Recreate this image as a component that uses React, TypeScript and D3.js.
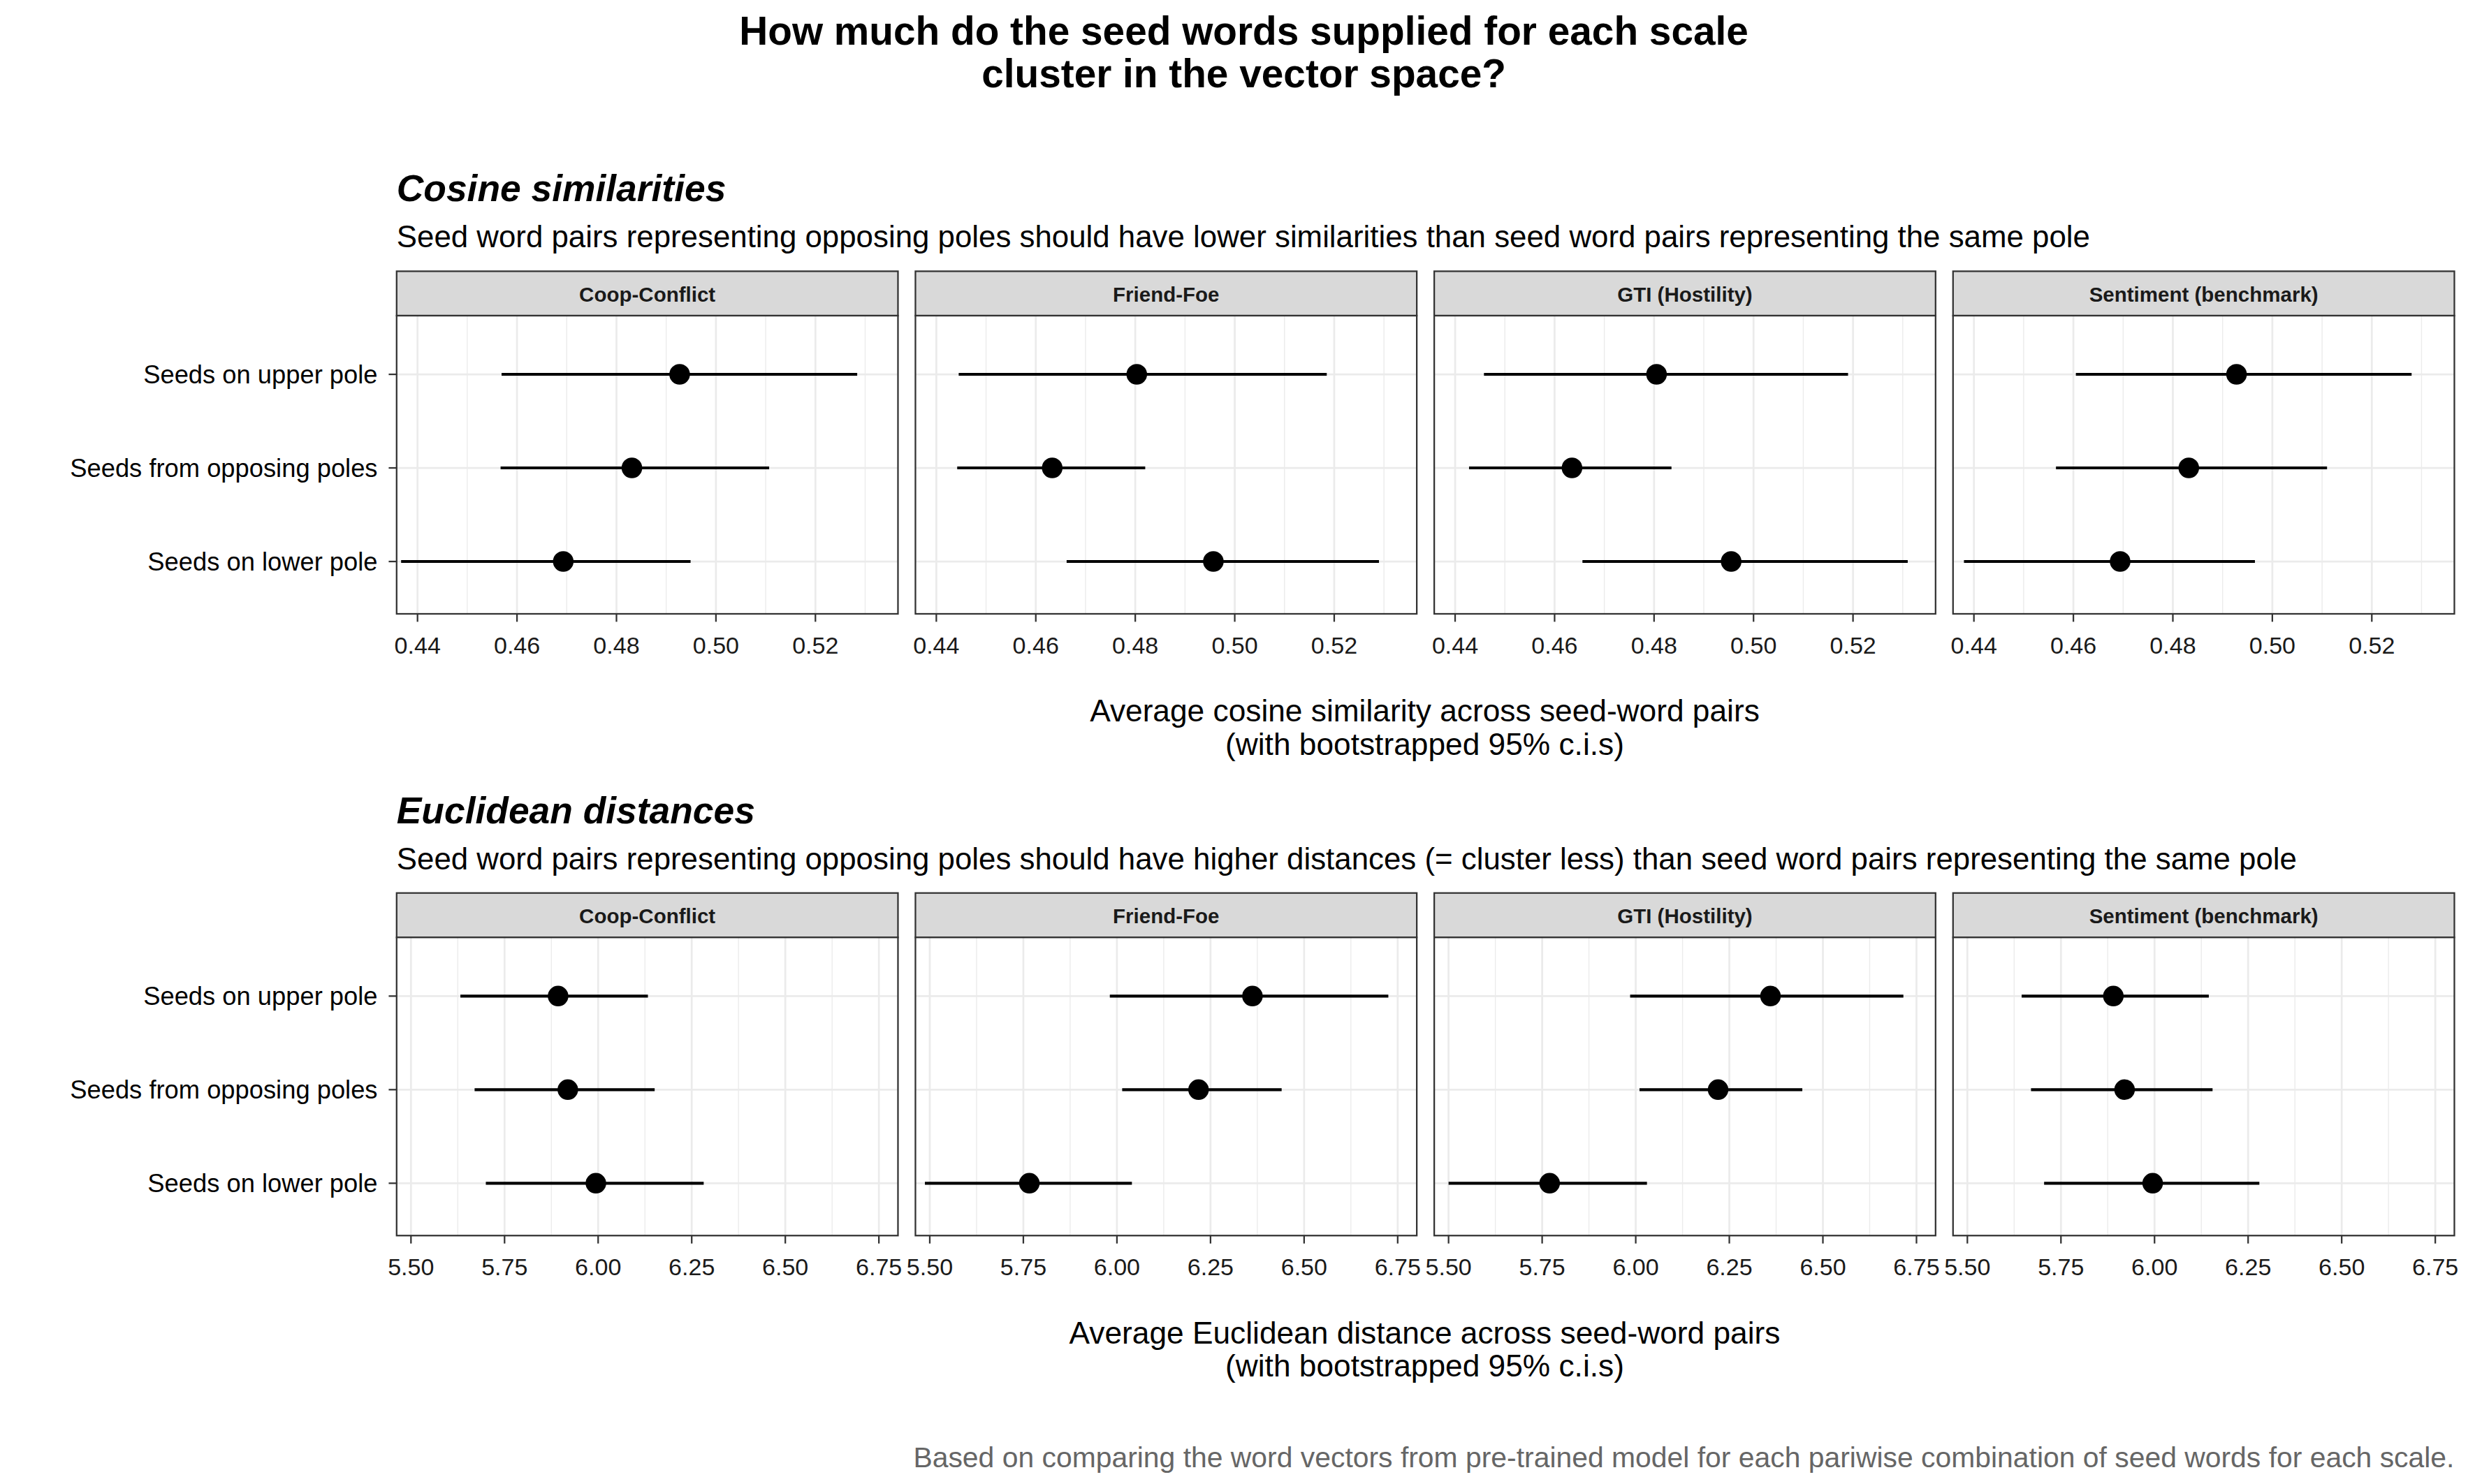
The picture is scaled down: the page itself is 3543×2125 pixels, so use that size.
import React from "react";
import { scaleLinear, scalePoint } from "d3";

const scales = ["Coop-Conflict", "Friend-Foe", "GTI (Hostility)", "Sentiment (benchmark)"];
const rows = ["Seeds on upper pole", "Seeds from opposing poles", "Seeds on lower pole"];

// [estimate, low, high] per scale, per row
const cosEst = [
  [0.4927, 0.4831, 0.4693],
  [0.4803, 0.4633, 0.4957],
  [0.4805, 0.4635, 0.4955],
  [0.4928, 0.4832, 0.4694],
];
const cosLow = [
  [0.4569, 0.4567, 0.4367],
  [0.4445, 0.4442, 0.4662],
  [0.4458, 0.4428, 0.4656],
  [0.4605, 0.4565, 0.4380],
];
const cosHigh = [
  [0.5284, 0.5107, 0.4949],
  [0.5185, 0.4820, 0.5290],
  [0.5190, 0.4835, 0.5310],
  [0.5280, 0.5110, 0.4965],
];
const eucEst = [
  [5.893, 5.919, 5.994],
  [6.362, 6.218, 5.766],
  [6.360, 6.220, 5.770],
  [5.890, 5.920, 5.995],
];
const eucLow = [
  [5.632, 5.670, 5.700],
  [5.981, 6.014, 5.487],
  [5.985, 6.010, 5.500],
  [5.645, 5.670, 5.705],
];
const eucHigh = [
  [6.133, 6.151, 6.282],
  [6.725, 6.440, 6.040],
  [6.715, 6.445, 6.030],
  [6.145, 6.155, 6.280],
];
const cosTicks = [0.44, 0.46, 0.48, 0.5, 0.52];
const cosMinor = [0.45, 0.47, 0.49, 0.51, 0.53];
const eucTicks = [5.5, 5.75, 6.0, 6.25, 6.5, 6.75];
const eucMinor = [5.625, 5.875, 6.125, 6.375, 6.625];

const W = 1560;
const H = 935.6;
const font = "'Liberation Sans', Arial, sans-serif";
const panelX = [250, 577, 904, 1231];
const panelW = 316;

function Section(props: {
  top: number; title: string; desc: string; axis1: string;
  est: number[][]; low: number[][]; high: number[][];
  domain: [number, number]; ticks: number[]; minor: number[]; fmt: (v: number) => string;
}) {
  const { top, est, low, high } = props;
  const stripTop = top + 52;
  const pTop = stripTop + 28;
  const pH = 188;
  const y = scalePoint<string>().domain(rows).range([pTop + 37, pTop + 155]);
  return (
    <g>
      <text x={250} y={top + 8} fontSize={23.5} fontWeight="bold" fontStyle="italic">{props.title}</text>
      <text x={250} y={top + 37} fontSize={19.3}>{props.desc}</text>
      {rows.map((r) => (
        <g key={r}>
          <text x={238} y={y(r)! + 5.5} fontSize={16} textAnchor="end">{r}</text>
          <line x1={245} x2={250} y1={y(r)} y2={y(r)} stroke="#333" strokeWidth={1} />
        </g>
      ))}
      {scales.map((s, i) => {
        const x = scaleLinear().domain(props.domain).range([panelX[i], panelX[i] + panelW]);
        return (
          <g key={s}>
            <rect x={panelX[i]} y={stripTop} width={panelW} height={28} fill="#d9d9d9" stroke="#333" strokeWidth={1} />
            <text x={panelX[i] + panelW / 2} y={stripTop + 19} fontSize={13} fontWeight="bold" textAnchor="middle" fill="#1a1a1a">{s}</text>
            <rect x={panelX[i]} y={pTop} width={panelW} height={pH} fill="#fff" />
            {props.minor.map((t) => (
              <line key={"m" + t} x1={x(t)} x2={x(t)} y1={pTop} y2={pTop + pH} stroke="#ebebeb" strokeWidth={0.6} />
            ))}
            {props.ticks.map((t) => (
              <line key={"M" + t} x1={x(t)} x2={x(t)} y1={pTop} y2={pTop + pH} stroke="#ebebeb" strokeWidth={1.2} />
            ))}
            {rows.map((r) => (
              <line key={"h" + r} x1={panelX[i]} x2={panelX[i] + panelW} y1={y(r)} y2={y(r)} stroke="#ebebeb" strokeWidth={1.2} />
            ))}
            {rows.map((r, j) => (
              <g key={"d" + r}>
                <line x1={x(low[i][j])} x2={x(high[i][j])} y1={y(r)} y2={y(r)} stroke="#000" strokeWidth={1.8} />
                <circle cx={x(est[i][j])} cy={y(r)} r={6.5} fill="#000" />
              </g>
            ))}
            <rect x={panelX[i]} y={pTop} width={panelW} height={pH} fill="none" stroke="#333" strokeWidth={1} />
            {props.ticks.map((t) => (
              <g key={"t" + t}>
                <line x1={x(t)} x2={x(t)} y1={pTop + pH} y2={pTop + pH + 5} stroke="#333" strokeWidth={1} />
                <text x={x(t)} y={pTop + pH + 25} fontSize={15} textAnchor="middle" fill="#1a1a1a">{props.fmt(t)}</text>
              </g>
            ))}
          </g>
        );
      })}
      <text x={898} y={pTop + pH + 68} fontSize={19.5} textAnchor="middle">{props.axis1}</text>
      <text x={898} y={pTop + pH + 89} fontSize={19.5} textAnchor="middle">(with bootstrapped 95% c.i.s)</text>
    </g>
  );
}

export default function App() {
  return (
    <div style={{ position: "fixed", left: 0, top: 0 }}>
      <svg width={3543} height={2125} viewBox={`0 0 ${W} ${H}`} fontFamily={font} style={{ display: "block", background: "#fff" }}>
        <text x={784} y={28} fontSize={25} fontWeight="bold" textAnchor="middle">How much do the seed words supplied for each scale</text>
        <text x={784} y={55} fontSize={25} fontWeight="bold" textAnchor="middle">cluster in the vector space?</text>
        <Section
          top={119}
          title="Cosine similarities"
          desc="Seed word pairs representing opposing poles should have lower similarities than seed word pairs representing the same pole"
          axis1="Average cosine similarity across seed-word pairs"
          est={cosEst} low={cosLow} high={cosHigh}
          domain={[0.4358, 0.5366]} ticks={cosTicks} minor={cosMinor}
          fmt={(v) => v.toFixed(2)}
        />
        <Section
          top={511}
          title="Euclidean distances"
          desc="Seed word pairs representing opposing poles should have higher distances (= cluster less) than seed word pairs representing the same pole"
          axis1="Average Euclidean distance across seed-word pairs"
          est={eucEst} low={eucLow} high={eucHigh}
          domain={[5.4617, 6.801]} ticks={eucTicks} minor={eucMinor}
          fmt={(v) => v.toFixed(2)}
        />
        <text x={1547} y={925} fontSize={18} textAnchor="end" fill="#666">Based on comparing the word vectors from pre-trained model for each pariwise combination of seed words for each scale.</text>
      </svg>
    </div>
  );
}
